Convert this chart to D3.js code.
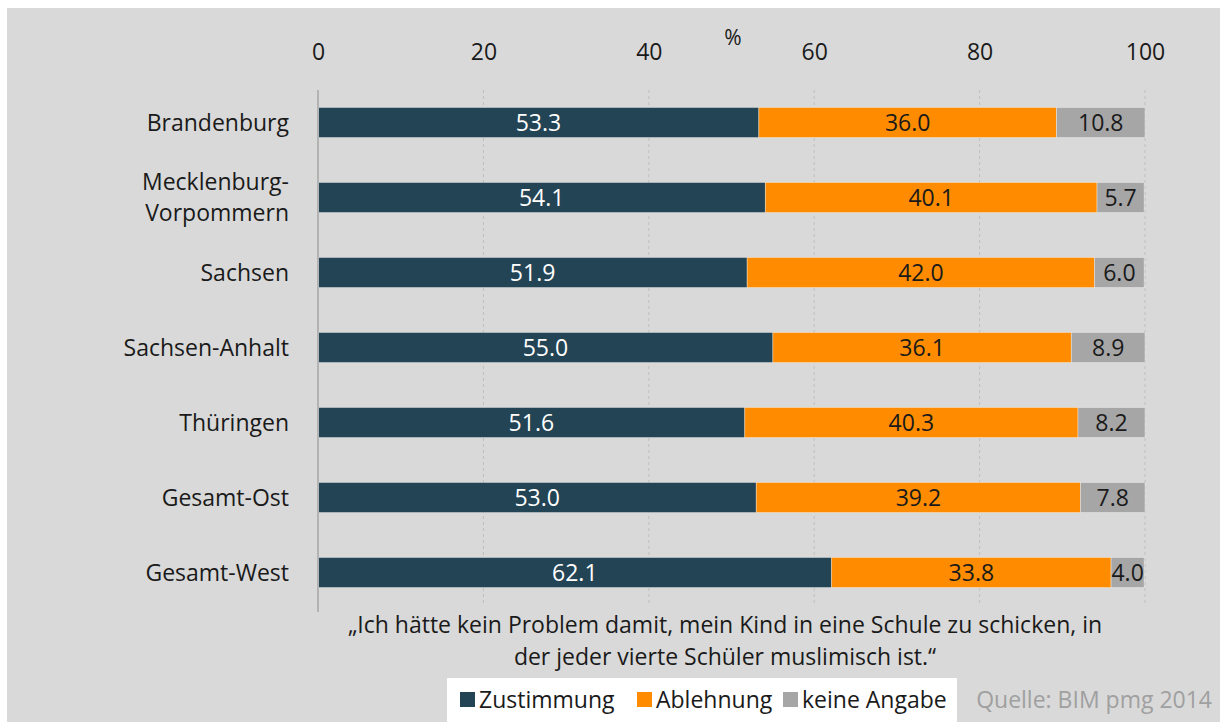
<!DOCTYPE html>
<html>
<head>
<meta charset="utf-8">
<script src="https://cdn.jsdelivr.net/npm/d3@7"></script>
<style>
  body { margin: 0; background: #ffffff; }
  svg { display: block; font-family: "Open Sans", sans-serif; }
</style>
</head>
<body>
<div id="chart"></div>
<script>
// Data
const categories = ["Brandenburg", "Mecklenburg-\nVorpommern", "Sachsen", "Sachsen-Anhalt", "Thüringen", "Gesamt-Ost", "Gesamt-West"];
const zustimmung = [53.3, 54.1, 51.9, 55.0, 51.6, 53.0, 62.1];
const ablehnung = [36.0, 40.1, 42.0, 36.1, 40.3, 39.2, 33.8];
const keineAngabe = [10.8, 5.7, 6.0, 8.9, 8.2, 7.8, 4.0];
const seriesNames = ["Zustimmung", "Ablehnung", "keine Angabe"];
const tickValues = [0, 20, 40, 60, 80, 100];

const width = 1220, height = 722;
const fs = 23;
const colors = ["#234455", "#ff8c00", "#a6a6a6"];
const labelColors = ["#ffffff", "#1a1a1a", "#1a1a1a"];

const svg = d3.select("#chart").append("svg")
  .attr("width", width)
  .attr("height", height);

// gray chart background
svg.append("rect")
  .attr("x", 7).attr("y", 8)
  .attr("width", width - 7).attr("height", height - 8)
  .attr("fill", "#d9d9d9");

const x = d3.scaleLinear().domain([0, 100]).range([318, 1145]);
const y = d3.scaleBand().domain(categories).range([85, 610]).paddingInner(0.6).paddingOuter(0.3);

// rows for stacking
const rows = categories.map((c, i) => ({
  cat: c,
  "Zustimmung": zustimmung[i],
  "Ablehnung": ablehnung[i],
  "keine Angabe": keineAngabe[i]
}));
const stacked = d3.stack().keys(seriesNames)(rows);

// dotted grid lines
svg.append("g").selectAll("line")
  .data(tickValues.slice(1))
  .enter().append("line")
  .attr("x1", d => x(d)).attr("x2", d => x(d))
  .attr("y1", 90).attr("y2", 606)
  .attr("stroke", "#bfbfbf")
  .attr("stroke-width", 1)
  .attr("stroke-dasharray", "3,3");

// top axis labels
const xAxis = svg.append("g")
  .attr("transform", "translate(0,52)")
  .call(d3.axisTop(x).tickValues(tickValues).tickSize(0).tickPadding(0));
xAxis.select(".domain").remove();
xAxis.selectAll("text")
  .attr("font-size", fs)
  .attr("font-family", "Open Sans, sans-serif")
  .attr("fill", "#1a1a1a")
  .attr("dy", "0.35em");

svg.append("text")
  .attr("x", 733).attr("y", 45)
  .attr("text-anchor", "middle")
  .attr("font-size", 21)
  .attr("fill", "#1a1a1a")
  .text("%");

// bars
const layer = svg.append("g").selectAll("g")
  .data(stacked)
  .enter().append("g")
  .attr("fill", (d, i) => colors[i]);

layer.selectAll("rect")
  .data(d => d)
  .enter().append("rect")
  .attr("x", d => x(d[0]))
  .attr("y", d => y(d.data.cat))
  .attr("width", d => x(Math.min(d[1], 100)) - x(d[0]))
  .attr("height", y.bandwidth())
  .attr("stroke", "#ffffff")
  .attr("stroke-opacity", 0.35)
  .attr("stroke-width", 1);

// value labels
stacked.forEach((s, si) => {
  svg.append("g").selectAll("text")
    .data(s)
    .enter().append("text")
    .attr("x", d => (x(d[0]) + x(Math.min(d[1], 100))) / 2)
    .attr("y", d => y(d.data.cat) + y.bandwidth() / 2)
    .attr("dy", "0.36em")
    .attr("text-anchor", "middle")
    .attr("font-size", fs)
    .attr("fill", labelColors[si])
    .text(d => (d[1] - d[0]).toFixed(1));
});

// left axis line
svg.append("line")
  .attr("x1", x(0)).attr("x2", x(0))
  .attr("y1", 90).attr("y2", 612)
  .attr("stroke", "#b3b3b3")
  .attr("stroke-width", 2);

// category labels
const catText = svg.append("g").selectAll("text")
  .data(categories)
  .enter().append("text")
  .attr("text-anchor", "end")
  .attr("font-size", fs)
  .attr("fill", "#1a1a1a")
  .attr("transform", d => `translate(289,${y(d) + y.bandwidth() / 2})`);

catText.each(function (d) {
  const lines = d.split("\n");
  const t = d3.select(this);
  lines.forEach((ln, k) => {
    t.append("tspan")
      .attr("x", 0)
      .attr("y", (k - (lines.length - 1) / 2) * 31)
      .attr("dy", "0.36em")
      .text(ln);
  });
});

// caption
const caption = ["\u201EIch hätte kein Problem damit, mein Kind in eine Schule zu schicken, in",
  "der jeder vierte Schüler muslimisch ist.\u201C"];
svg.append("g").selectAll("text")
  .data(caption)
  .enter().append("text")
  .attr("x", 725)
  .attr("y", (d, i) => 633 + i * 32)
  .attr("text-anchor", "middle")
  .attr("font-size", fs)
  .attr("fill", "#1a1a1a")
  .text(d => d);

// legend
svg.append("rect")
  .attr("x", 447).attr("y", 678)
  .attr("width", 510).attr("height", 44)
  .attr("fill", "#ffffff");

const legendX = [460, 637, 783];
const legend = svg.append("g").selectAll("g")
  .data(seriesNames)
  .enter().append("g")
  .attr("transform", (d, i) => `translate(${legendX[i]},700)`);
legend.append("rect")
  .attr("x", 0).attr("y", -8)
  .attr("width", 15).attr("height", 15)
  .attr("fill", (d, i) => colors[i]);
legend.append("text")
  .attr("x", 19).attr("y", 0)
  .attr("dy", "0.36em")
  .attr("font-size", fs)
  .attr("fill", "#1a1a1a")
  .text(d => d);

svg.append("text")
  .attr("x", 1212).attr("y", 700)
  .attr("dy", "0.36em")
  .attr("text-anchor", "end")
  .attr("font-size", fs)
  .attr("fill", "#a0a0a0")
  .text("Quelle: BIM pmg 2014");
</script>
</body>
</html>
